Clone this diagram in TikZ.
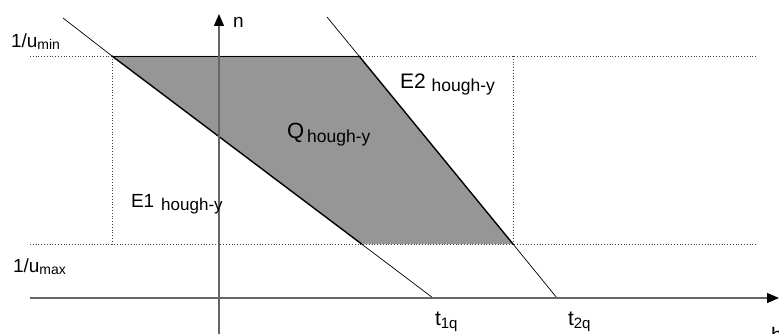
\documentclass[tikz,border=0pt]{standalone}
\usepackage{fontspec}
\setmainfont{Liberation Sans}
\usetikzlibrary{arrows.meta}
\begin{document}
\begin{tikzpicture}[x=1pt,y=-1pt,
  dotline/.style={dotted, line width=0.8pt, black!75},
  axisline/.style={line width=1.3pt, black!60, -{Triangle[length=12pt,width=10pt,color=black]}},
  thinline/.style={line width=0.7pt, black},
  edgeline/.style={line width=1.4pt, black},
  region/.style={fill={rgb,255:red,150;green,150;blue,150}},
  lbl/.style={anchor=base west, inner sep=0pt, outer sep=0pt}]
\useasboundingbox (0,0) rectangle (779,334);
% key points
\coordinate (L1s) at (63,18);
\coordinate (A) at (112,56);
\coordinate (D) at (361.6,244);
\coordinate (T1) at (433,298);
\coordinate (L2s) at (327,17);
\coordinate (B) at (359,56);
\coordinate (C) at (513,244);
\coordinate (T2) at (557,298);
\coordinate (HL1) at (30,56);
\coordinate (HR1) at (756,56);
\coordinate (HL2) at (30,244);
\coordinate (HR2) at (756,244);
\coordinate (VL2) at (112,244);
\coordinate (VR1) at (513,56);
\coordinate (XS) at (30,298);
\coordinate (XE) at (779,298);
\coordinate (YS) at (219,334);
\coordinate (YE) at (219,14);
% region
\fill[region] (A) -- (B) -- (C) -- (D) -- cycle;
% dotted guides
\draw[dotline] (HL1) -- (HR1);
\draw[dotline] (HL2) -- (HR2);
\draw[dotline] (A) -- (VL2);
\draw[dotline] (VR1) -- (C);
% region edges
\draw[thinline] (A) -- (B);
\draw[edgeline] (A) -- (D);
\draw[edgeline] (B) -- (C);
% line extensions
\draw[thinline] (L1s) -- (A);
\draw[thinline] (D) -- (T1);
\draw[thinline] (L2s) -- (B);
\draw[thinline] (C) -- (T2);
% axes
\draw[axisline] (XS) -- (XE);
\draw[axisline] (YS) -- (YE);
% labels
\node[lbl, font=\fontsize{19}{19}\selectfont] (nlab) at (233,28) {n};
\node[lbl, font=\fontsize{19}{19}\selectfont] (umin) at (11,48) {1/u\raisebox{-2pt}{\fontsize{14}{14}\selectfont min}};
\node[lbl, font=\fontsize{19}{19}\selectfont] (umax) at (13,272) {1/u\raisebox{-2pt}{\fontsize{14}{14}\selectfont max}};
\node[lbl, font=\fontsize{21}{21}\selectfont] (e2) at (400,89) {E2\hspace{6pt}\raisebox{-3pt}{\fontsize{17.5}{17.5}\selectfont hough-y}};
\node[lbl, font=\fontsize{19}{19}\selectfont] (e1) at (131,207) {E1\hspace{7pt}\raisebox{-3pt}{\fontsize{17}{17}\selectfont hough-y}};
\node[lbl, font=\fontsize{22}{22}\selectfont] (q) at (287,139) {Q\hspace{3pt}\raisebox{-4pt}{\fontsize{17.5}{17.5}\selectfont hough-y}};
\node[lbl, font=\fontsize{21}{21}\selectfont] (t1) at (435,325) {t\raisebox{-3pt}{\fontsize{15}{15}\selectfont 1q}};
\node[lbl, font=\fontsize{21}{21}\selectfont] (t2) at (568,325) {t\raisebox{-3pt}{\fontsize{15}{15}\selectfont 2q}};
\node[lbl, font=\fontsize{21}{21}\selectfont] (blab) at (771,342) {b};
\end{tikzpicture}
\end{document}
